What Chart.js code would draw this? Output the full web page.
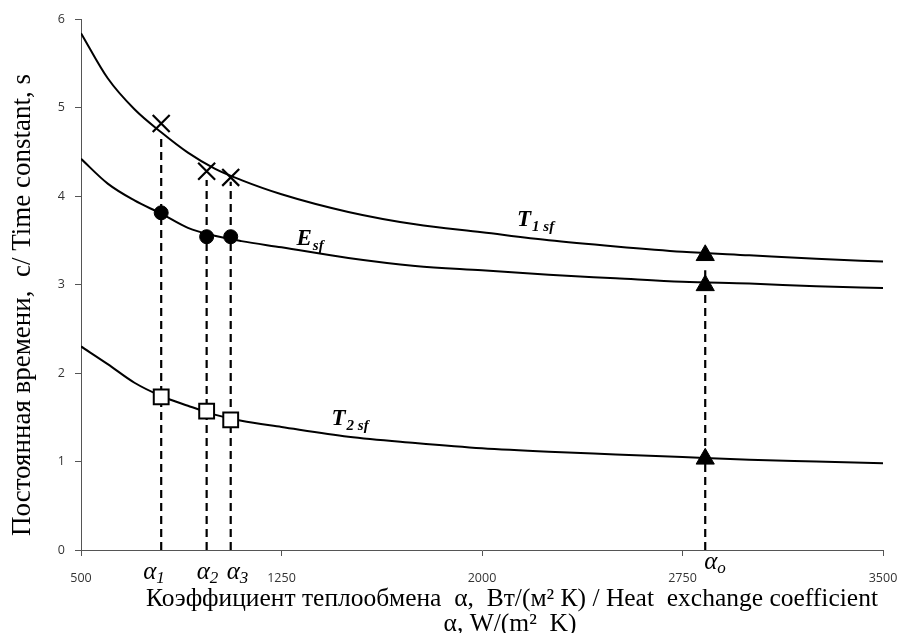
<!DOCTYPE html>
<html>
<head>
<meta charset="utf-8">
<script src="https://cdn.jsdelivr.net/npm/chart.js@4.4.1/dist/chart.umd.min.js"></script>
<style>
  body { margin: 0; background: #fff; }
  #wrap { width: 900px; height: 633px; }
</style>
</head>
<body>
<div id="wrap"><canvas id="myChart" width="900" height="633"></canvas></div>
<script>
// heat exchange coefficient, W/(m2 K)
const alphaGrid = [500, 600, 700, 800, 900, 1000, 1100, 1250, 1500, 1750, 2000, 2250, 2500, 2750, 3000, 3250, 3500];
// time constants, s
const t1sf = [5.84, 5.33, 4.98, 4.72, 4.49, 4.31, 4.18, 4.02, 3.82, 3.68, 3.59, 3.50, 3.43, 3.37, 3.33, 3.29, 3.26];
const esf  = [4.42, 4.14, 3.95, 3.80, 3.64, 3.55, 3.49, 3.42, 3.30, 3.21, 3.16, 3.11, 3.07, 3.03, 3.01, 2.98, 2.96];
const t2sf = [2.30, 2.10, 1.89, 1.74, 1.63, 1.53, 1.46, 1.39, 1.28, 1.21, 1.15, 1.11, 1.08, 1.05, 1.02, 1.00, 0.98];

// marked points alpha1, alpha2, alpha3
const alphaMarks = [800, 970, 1060];
const crossVals  = [4.82, 4.28, 4.21];
const dotVals    = [3.81, 3.54, 3.54];
const squareVals = [1.73, 1.57, 1.47];
// alpha_o
const alphaO = 2835;
const triVals = [3.33, 2.99, 1.03];

// dashed drop lines: x and top value
const dropX   = [800, 970, 1060, 2835];
const dropTop = [4.69, 4.18, 4.16, 3.16];

const xTicks = [500, 1250, 2000, 2750, 3500];
const yTicks = [0, 1, 2, 3, 4, 5, 6];

const pts = (xs, ys) => xs.map((x, i) => ({x: x, y: ys[i]}))

const curve = (label, ys) => ({
    label: label,
    data: pts(alphaGrid, ys),
    borderColor: '#000',
    borderWidth: 2,
    pointRadius: 0,
    cubicInterpolationMode: 'monotone',
    fill: false,
    order: 2
})

const datasets = [
    curve('T1sf', t1sf),
    curve('Esf', esf),
    curve('T2sf', t2sf)
]

dropX.forEach((x, i) => {
    datasets.push({
        label: 'drop' + i,
        data: [{x: x, y: 0}, {x: x, y: dropTop[i]}],
        borderColor: '#000',
        borderWidth: 2.2,
        borderDash: [8, 5],
        pointRadius: 0,
        order: 3
    })
})

datasets.push({
    label: 'cross', data: pts(alphaMarks, crossVals), showLine: false,
    pointStyle: 'crossRot', pointRadius: 12, borderColor: '#000', pointBorderWidth: 2.2, order: 1
})
datasets.push({
    label: 'dot', data: pts(alphaMarks, dotVals), showLine: false,
    pointStyle: 'circle', pointRadius: 7, backgroundColor: '#000', borderColor: '#000', order: 1
})
datasets.push({
    label: 'square', data: pts(alphaMarks, squareVals), showLine: false,
    pointStyle: 'rect', pointRadius: 10.5, backgroundColor: '#fff', borderColor: '#000', pointBorderWidth: 2, order: 1
})
datasets.push({
    label: 'tri', data: triVals.map(v => ({x: alphaO, y: v})), showLine: false,
    pointStyle: 'triangle', pointRadius: 10.5, backgroundColor: '#000', borderColor: '#000', order: 1
})

// text placed over the plot
const curveNames = [
    {main: 'T', sub: '1 sf', x: 2131, y: 3.66},
    {main: 'E', sub: 'sf',   x: 1306, y: 3.45},
    {main: 'T', sub: '2 sf', x: 1437, y: 1.41}
]
const alphaNames = [
    {sub: '1', x: 800,  dx: -18, py: 579},
    {sub: '2', x: 970,  dx: -10, py: 579},
    {sub: '3', x: 1060, dx: -4,  py: 579},
    {sub: 'o', x: 2835, dx: -1,  py: 569}
]

const serif = '"Liberation Serif", "DejaVu Serif", serif'

const labelsPlugin = {
    id: 'labels',
    afterDraw(chart) {
        const c = chart.ctx
        const xs = chart.scales.x, ys = chart.scales.y
        c.save()
        c.fillStyle = '#000'
        c.textBaseline = 'alphabetic'
        c.textAlign = 'left'

        curveNames.forEach(n => {
            let px = xs.getPixelForValue(n.x), py = ys.getPixelForValue(n.y)
            c.font = 'bold italic 23px ' + serif
            c.fillText(n.main, px, py)
            let w = c.measureText(n.main).width
            c.font = 'bold italic 15px ' + serif
            c.fillText(n.sub, px + w + 1, py + 5)
        })

        alphaNames.forEach(n => {
            let px = xs.getPixelForValue(n.x) + n.dx
            c.font = 'italic 25px ' + serif
            c.fillText('α', px, n.py)
            let w = c.measureText('α').width
            c.font = 'italic 17px ' + serif
            c.fillText(n.sub, px + w, n.py + 4)
        })

        // axis titles
        c.font = '25.5px ' + serif
        c.textAlign = 'center'
        c.fillText('Коэффициент теплообмена  α,  Вт/(м² К) / Heat  exchange coefficient', 512, 606)
        c.fillText('α, W/(m²  K)', 510, 631)

        c.translate(30, 305)
        c.rotate(-Math.PI / 2)
        c.font = '27px ' + serif
        c.fillText('Постоянная времени,  с/ Time constant, s', 0, 0)
        c.restore()
    }
}

const tickFont = {family: '"Open Sans", "DejaVu Sans", sans-serif', size: 12.5}

const config = {
    type: 'line',
    data: {datasets: datasets},
    plugins: [labelsPlugin],
    options: {
        responsive: false,
        animation: false,
        layout: {padding: {top: 19, right: 17, left: 0, bottom: 0}},
        plugins: {legend: {display: false}, tooltip: {enabled: false}},
        scales: {
            x: {
                type: 'linear',
                min: 500,
                max: 3500,
                afterFit: s => { s.height = 83; s.paddingRight = 0; s.paddingLeft = 0 },
                afterBuildTicks: s => { s.ticks = xTicks.map(v => ({value: v})) },
                grid: {drawOnChartArea: false, tickLength: 6, color: '#555', tickWidth: 1},
                border: {display: true, color: '#555', width: 1},
                ticks: {color: '#333', font: tickFont, padding: 15, maxRotation: 0, autoSkip: false,
                        callback: v => String(v)}
            },
            y: {
                type: 'linear',
                min: 0,
                max: 6,
                afterFit: s => { s.width = 81; s.paddingTop = 0; s.paddingBottom = 0 },
                afterBuildTicks: s => { s.ticks = yTicks.map(v => ({value: v})) },
                grid: {drawOnChartArea: false, tickLength: 6, color: '#555', tickWidth: 1},
                border: {display: true, color: '#555', width: 1},
                ticks: {color: '#333', font: tickFont, padding: 10, callback: v => String(v)}
            }
        }
    }
}

const charts = new Chart(document.getElementById('myChart'), config)
</script>
</body>
</html>
